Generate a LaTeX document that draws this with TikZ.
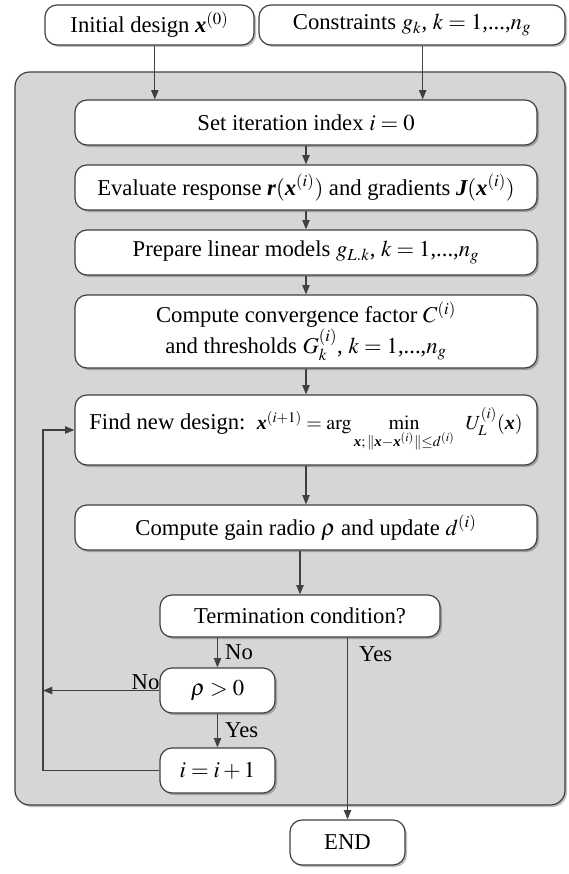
\documentclass[tikz,border=0pt]{standalone}
\usepackage{amsmath}
\usepackage{mathptmx}
\usepackage[no-math]{fontspec}
\setmainfont{Liberation Serif}
\usetikzlibrary{arrows.meta,shadows}

\definecolor{panel}{HTML}{D6D6D6}
\definecolor{edge}{HTML}{404040}
\newcommand{\bvec}[1]{\text{\bfseries\itshape #1}}
\newcommand{\bx}{\bvec{x}}
\tikzset{
  soft shadow/.style={drop shadow={shadow xshift=1.5pt, shadow yshift=-1.5pt, opacity=.25, fill=black}},
  stepbox/.style={draw=edge, line width=.9pt, fill=white, rounded corners=9pt,
    minimum width=346.5pt, minimum height=33.75pt, inner sep=2pt, soft shadow},
  smallbox/.style={stepbox, minimum width=86.25pt},
  flow/.style={draw=edge, line width=.9pt, ->},
}

\begin{document}
\begin{tikzpicture}[x=0.75pt, y=-0.75pt,
    font=\fontsize{17}{21}\selectfont,
    >={Triangle[length=7pt, width=5.5pt]}]
  \useasboundingbox (0,0) rectangle (568,874);
  % gray frame around the loop
  \draw[edge, line width=.9pt, fill=panel, rounded corners=11pt, soft shadow]
    (15,72) rectangle (565,805);

  \node[stepbox, minimum width=156.75pt, minimum height=30pt] (init) at (149.5,25)
    {Initial design $\bx^{(0)}$};
  \node[stepbox, minimum width=229.5pt, minimum height=30pt] (cons) at (412,25)
    {Constraints $g_k$, $k = 1$,...,$n_g$};

  \node[stepbox] (set) at (306,122.5) {Set iteration index $i = 0$};
  \node[stepbox] (eval) at (306,187.5)
    {Evaluate response $\bvec{r}(\bx^{(i)})$ and gradients $\bvec{J}(\bx^{(i)})$};
  \node[stepbox] (prep) at (306,252.5) {Prepare linear models $g_{L.k}$, $k = 1$,...,$n_g$};
  \node[stepbox, minimum height=54.75pt, align=center] (conv) at (306,331.5)
    {Compute convergence factor $C^{(i)}$\\ and thresholds $G_k^{(i)}$, $k = 1$,...,$n_g$};
  \node[stepbox, minimum height=52.5pt] (find) at (306,430)
    {Find new design:\ \ {\fontsize{15}{18}\selectfont
     $\bx^{(i+1)} = \arg\min\limits_{\bx;\,\|\bx-\bx^{(i)}\|\le d^{(i)}}\;\; U_L^{(i)}(\bx)$}};
  \node[stepbox] (gain) at (306,527.5) {Compute gain radio $\rho$ and update $d^{(i)}$};
  \node[stepbox, minimum width=210pt, minimum height=31.5pt] (term) at (300,616)
    {Termination condition?};
  \node[smallbox] (rho) at (217.5,690.5) {$\rho > 0$};
  \node[smallbox] (inc) at (217.5,770.5) {$i = i + 1$};
  \node[smallbox] (done) at (347.5,842.5) {END};

  \coordinate (loop) at (43,430);

  \draw[flow] ([xshift=4pt]init.south) -- ([xshift=4pt]init.south |- set.north);
  \draw[flow] ([xshift=8pt]cons.south) -- ([xshift=8pt]cons.south |- set.north);
  \draw[flow] (set) -- (eval);
  \draw[flow] (eval) -- (prep);
  \draw[flow] (prep) -- (conv);
  \draw[flow] (conv) -- (find);
  \draw[flow] (find) -- (gain);
  \draw[flow] (gain.south -| term.north) -- (term.north);
  \draw[flow] (term.south -| rho.north) -- (rho.north)
    node[midway, right, xshift=2pt] {No};
  \draw[flow] (rho) -- (inc) node[midway, right, xshift=2pt] {Yes};
  \draw[flow] (rho.west) -- (rho.west -| loop)
    node[pos=.05, above, xshift=-6pt, yshift=-3pt] {No};
  \draw[flow] (inc.west) -| (loop) -- (find.west);
  \draw[flow] (term.south -| done.north) -- (done.north)
    node[pos=.09, right, xshift=5pt] {Yes};
\end{tikzpicture}
\end{document}
